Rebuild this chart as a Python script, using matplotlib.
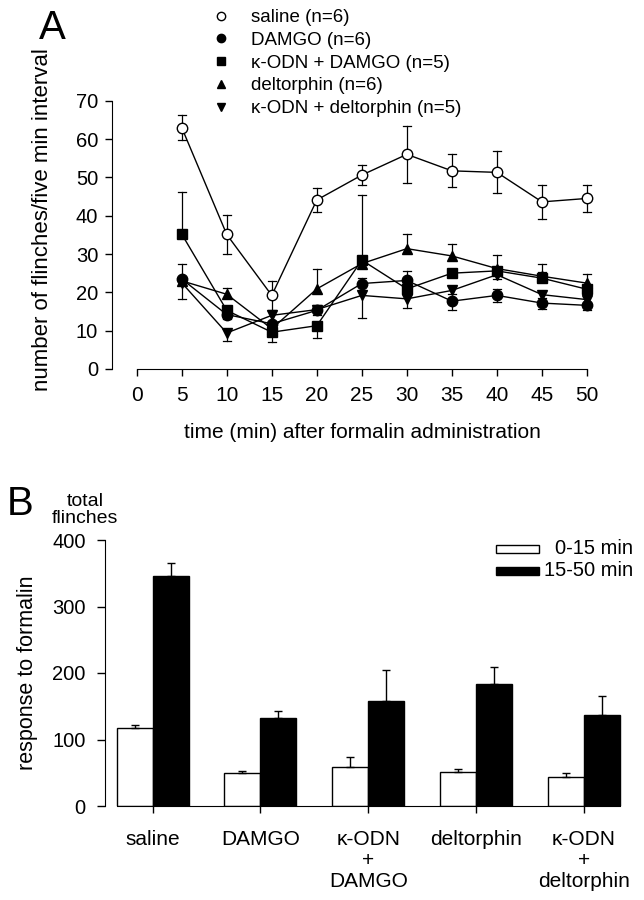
import matplotlib
matplotlib.use('Agg')
import matplotlib.pyplot as plt
from matplotlib.lines import Line2D
from matplotlib.patches import Rectangle
import numpy as np

plt.rcParams['font.family'] = ['Liberation Sans', 'DejaVu Sans']

# ---- panel A: flinches per 5-min interval (mean, SEM below / above) ----
time_min = [5, 10, 15, 20, 25, 30, 35, 40, 45, 50]

saline = [63.0, 35.1, 19.2, 44.1, 50.6, 56.0, 51.7, 51.3, 43.6, 44.5]
saline_lo = [3.2, 5.0, 3.7, 3.2, 2.6, 7.4, 4.3, 5.5, 4.4, 3.5]
saline_hi = [3.2, 5.0, 3.7, 3.2, 2.6, 7.4, 4.3, 5.5, 4.4, 3.5]

damgo = [23.5, 14.2, 11.8, 15.3, 22.3, 23.1, 17.7, 19.2, 17.2, 16.6]
damgo_lo = [0, 1.2, 1.2, 1.2, 0, 0, 2.4, 1.6, 1.5, 1.2]
damgo_hi = [4.0, 0, 0, 1.5, 1.5, 2.4, 0, 1.6, 0, 0]

kodn_damgo = [35.2, 15.3, 9.6, 11.3, 28.4, 20.9, 25.0, 25.6, 23.7, 20.8]
kodn_damgo_lo = [0, 0, 2.6, 3.3, 0, 1.2, 0, 0, 0, 1.2]
kodn_damgo_hi = [11.0, 1.2, 0, 0, 17.0, 0, 1.0, 0, 1.5, 0]

delt = [23.0, 19.5, 10.5, 20.9, 27.5, 31.4, 29.5, 26.2, 24.2, 22.4]
delt_lo = [0, 0, 0, 0, 0, 0, 0, 0, 0, 0]
delt_hi = [0, 1.7, 0, 5.3, 0, 3.8, 3.0, 3.6, 3.1, 2.5]

kodn_delt = [22.5, 9.4, 14.0, 15.5, 19.2, 18.3, 20.5, 24.6, 19.4, 18.1]
kodn_delt_lo = [4.3, 2.0, 0, 0, 6.0, 2.4, 1.0, 1.0, 1.0, 1.0]
kodn_delt_hi = [0, 0, 0, 0, 0, 0, 0, 0, 0, 0]

# ---- panel B: total flinches ----
groups = ['saline', 'DAMGO', 'κ-ODN\n+\nDAMGO', 'deltorphin', 'κ-ODN\n+\ndeltorphin']
early = [118, 49, 59, 51, 44]
early_err = [4, 4, 14, 4, 6]
late = [346, 133, 158, 184, 137]
late_err = [19, 10, 46, 25, 28]


def sem_bars(ax, x, y, lo, hi, cap=0.45):
    # one-sided or two-sided error bars as in the original figure
    for xi, yi, l, h in zip(x, y, lo, hi):
        if l == 0 and h == 0:
            continue
        ax.plot([xi, xi], [yi - l, yi + h], color='k', lw=0.9, zorder=1)
        for end, e in ((yi - l, l), (yi + h, h)):
            if e > 0:
                ax.plot([xi - cap, xi + cap], [end, end], color='k', lw=0.9, zorder=1)


W, H = 644, 900
fig = plt.figure(figsize=(W / 100, H / 100), dpi=100)


def fx(px):
    return px / W


def fy(py):
    return 1 - py / H


# ------------------------------------------------------------ panel A
axA = fig.add_axes([fx(112), fy(369), fx(596) - fx(112), fy(100.7) - fy(369)])

series = [
    ('saline (n=6)', saline, saline_lo, saline_hi, 'o', 'white', 7.5),
    ('DAMGO (n=6)', damgo, damgo_lo, damgo_hi, 'o', 'black', 7.5),
    ('κ-ODN + DAMGO (n=5)', kodn_damgo, kodn_damgo_lo, kodn_damgo_hi, 's', 'black', 6.5),
    ('deltorphin (n=6)', delt, delt_lo, delt_hi, '^', 'black', 7.5),
    ('κ-ODN + deltorphin (n=5)', kodn_delt, kodn_delt_lo, kodn_delt_hi, 'v', 'black', 7.5),
]

handles = []
for label, y, lo, hi, m, fc, ms in series:
    sem_bars(axA, time_min, y, lo, hi)
    axA.plot(time_min, y, color='k', lw=1.0, marker=m, mfc=fc, mec='k',
             mew=1.0, ms=ms, zorder=3)
    handles.append(Line2D([], [], ls='none', marker=m, color='k', mfc=fc,
                          mec='k', ms=6))

axA.set_xlim(-2.74, 51)
axA.set_ylim(0, 70)
axA.set_xticks(range(0, 51, 5))
axA.set_yticks(range(0, 71, 10))
for s in ('top', 'right'):
    axA.spines[s].set_visible(False)
axA.spines['bottom'].set_bounds(0, 50)
axA.spines['left'].set_bounds(0, 70)
axA.tick_params(axis='y', length=5, width=1, pad=5, labelsize=14.5)
axA.tick_params(axis='x', length=5, width=1, pad=7, labelsize=15)

fig.text(fx(43), fy(220), 'number of flinches/five min interval', rotation=90,
         ha='center', va='center', fontsize=16)
fig.text(fx(362), fy(432), 'time (min) after formalin administration',
         ha='center', va='center', fontsize=15)
fig.text(fx(52), fy(28), 'A', ha='center', va='center', fontsize=29)

fig.legend(handles, [s[0] for s in series], loc='upper left',
           bbox_to_anchor=(fx(212), fy(9)), frameon=False, fontsize=13.5,
           handlelength=1.0, handletextpad=1.1, labelspacing=0.3,
           borderpad=0, borderaxespad=0)

# ------------------------------------------------------------ panel B
w = 0.334
x = np.arange(len(groups))
axB = fig.add_axes([fx(105), fy(806), fx(630) - fx(105), fy(540) - fy(806)])
axB.bar(x - w / 2, early, w, color='white', edgecolor='k', lw=1.0,
        yerr=[np.zeros(len(early)), early_err], capsize=3,
        error_kw=dict(elinewidth=1.0, capthick=1.0, ecolor='k'))
axB.bar(x + w / 2, late, w, color='black', edgecolor='k', lw=1.0,
        yerr=[np.zeros(len(late)), late_err], capsize=3,
        error_kw=dict(elinewidth=1.0, capthick=1.0, ecolor='k'))

axB.set_xlim(-0.443, 4.43)
axB.set_ylim(0, 400)
axB.set_yticks(range(0, 401, 100))
axB.set_xticks(x)
axB.set_xticklabels(groups, fontsize=15, linespacing=1.15)
for s in ('top', 'right'):
    axB.spines[s].set_visible(False)
axB.spines['left'].set_bounds(0, 400)
axB.spines['bottom'].set_bounds(-w, len(groups) - 1 + w)
axB.tick_params(axis='y', length=6, width=1, pad=8, labelsize=14.5)
axB.tick_params(axis='x', length=5, width=1, pad=12)

fig.text(fx(27), fy(673), 'response to formalin', rotation=90,
         ha='center', va='center', fontsize=15.5)
fig.text(fx(85), fy(510), 'total\nflinches', ha='center', va='center',
         fontsize=14, linespacing=1.05)
fig.text(fx(20), fy(504), 'B', ha='center', va='center', fontsize=29)

# legend of panel B, labels right-aligned as in the original
for py, fc, txt in ((549, 'white', '0-15 min'), (571, 'black', '15-50 min')):
    fig.add_artist(Rectangle((fx(496), fy(py + 4)), fx(539) - fx(496),
                             fy(py - 4) - fy(py + 4), transform=fig.transFigure,
                             facecolor=fc, edgecolor='k', lw=1.0))
    fig.text(fx(633), fy(py), txt, ha='right', va='center', fontsize=14.5)

fig.savefig('out.png', dpi=100)
